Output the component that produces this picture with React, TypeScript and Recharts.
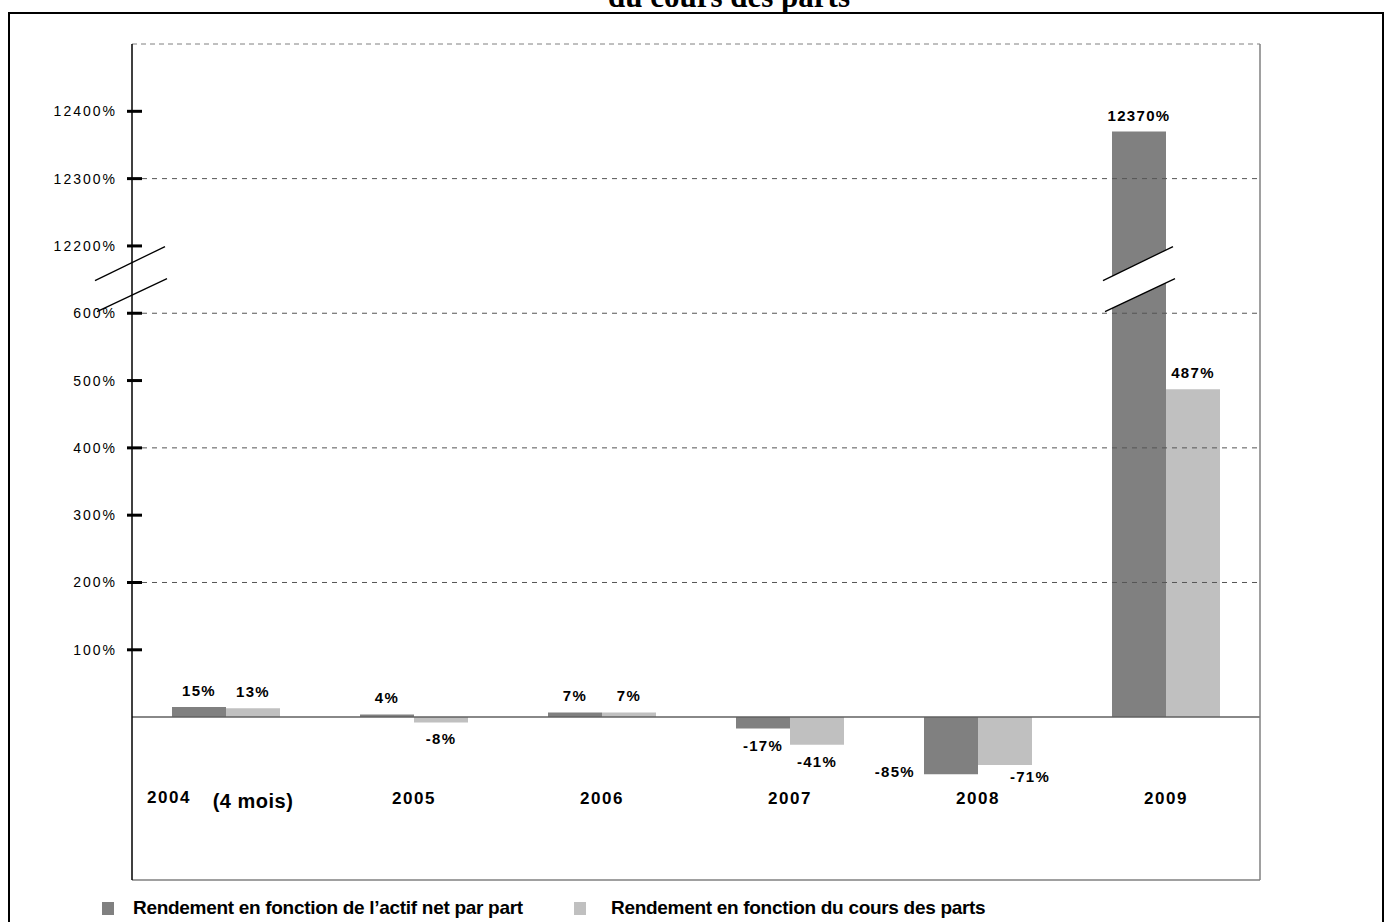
import { Bar, BarChart, LabelList, ReferenceDot, ReferenceLine, XAxis, YAxis } from "recharts";

const categories = ["2004", "2005", "2006", "2007", "2008", "2009"];
const categoryNotes = ["(4 mois)", "", "", "", "", ""];
const actifNet = [15, 4, 7, -17, -85, 12370];
const coursParts = [13, -8, 7, -41, -71, 487];
const yTicks = [100, 200, 300, 400, 500, 600, 12200, 12300, 12400];
const gridValues = [200, 400, 600, 12300];
const yMin = -242;
const yMax = 12500;

const seriesNames = [
  "Rendement en fonction de l\u2019actif net par part",
  "Rendement en fonction du cours des parts",
];
const DARK = "#808080";
const LIGHT = "#c0c0c0";

// broken axis: everything above the break is shifted down by BREAK_SHIFT
const BREAK_AT = 650;
const BREAK_SHIFT = 11500;
const toAxis = (v: number) => (v > BREAK_AT ? v - BREAK_SHIFT : v);
const fromAxis = (v: number) => (v > BREAK_AT ? v + BREAK_SHIFT : v);

const BAR_SIZE = 54;
const FONT = "'Liberation Sans', Arial, sans-serif";

const data = categories.map((c, i) => ({
  year: c,
  actif: toAxis(actifNet[i]),
  cours: toAxis(coursParts[i]),
  actifReal: actifNet[i],
  coursReal: coursParts[i],
}));

function YTick({ x, y, payload }: any) {
  return (
    <g>
      <line x1={x - 5} x2={x + 10} y1={y} y2={y} stroke="#000" strokeWidth={3} />
      <text x={x - 15} y={y + 5} textAnchor="end" fontFamily={FONT} fontSize={14} letterSpacing={2} fill="#000">
        {fromAxis(payload.value)}%
      </text>
    </g>
  );
}

// year labels sit inside the plot, above its bottom edge
function CategoryTick({ x, y, payload, index }: any) {
  const note = categoryNotes[index];
  const style = { fontFamily: FONT, fontWeight: 700, fill: "#000" };
  const base = y - 77;
  if (note) {
    return (
      <g>
        <text x={x - 57} y={base} textAnchor="middle" fontSize={17} letterSpacing={1.5} {...style}>
          {payload.value}
        </text>
        <text x={x + 27} y={base + 5} textAnchor="middle" fontSize={20} letterSpacing={0.5} {...style}>
          {note}
        </text>
      </g>
    );
  }
  return (
    <text x={x} y={base + 1} textAnchor="middle" fontSize={17} letterSpacing={1.5} {...style}>
      {payload.value}
    </text>
  );
}

const makeLabel = (dark: boolean) => (props: any) => {
  const { x, y, width, height, value } = props;
  const top = Math.min(y, y + height);
  const bottom = Math.max(y, y + height);
  let tx = x + width / 2;
  let ty = top - 11;
  let anchor = "middle";
  if (value < 0) {
    ty = bottom + 22;
    if (value < -50) {
      if (dark) {
        tx = x - 9;
        ty = bottom + 3;
        anchor = "end";
      } else {
        tx = x + width - 2;
        ty = bottom + 17;
      }
    }
  }
  return (
    <text x={tx} y={ty} textAnchor={anchor} fontFamily={FONT} fontWeight={700} fontSize={15} letterSpacing={1.3} fill="#000">
      {value}%
    </text>
  );
};

function BreakMark({ cx, cy }: { cx: number; cy: number }) {
  return (
    <g>
      <polygon
        points={`${cx - 36},${cy + 1} ${cx + 34},${cy - 33} ${cx + 36},${cy - 1} ${cx - 34},${cy + 32}`}
        fill="#fff"
        stroke="none"
      />
      <line x1={cx - 36} y1={cy + 1} x2={cx + 34} y2={cy - 33} stroke="#000" strokeWidth={1.3} />
      <line x1={cx - 34} y1={cy + 32} x2={cx + 36} y2={cy - 1} stroke="#000" strokeWidth={1.3} />
    </g>
  );
}

export default function App() {
  return (
    <div style={{ position: "absolute", left: 0, top: 0, width: 1385, height: 922, overflow: "hidden", background: "#fff" }}>
      <div
        style={{
          position: "absolute",
          left: 8,
          top: 12,
          width: 1376,
          height: 940,
          border: "2px solid #000",
          boxSizing: "border-box",
        }}
      />
      <div
        style={{
          position: "absolute",
          left: 0,
          width: 1458,
          top: -19,
          textAlign: "center",
          fontFamily: "'Liberation Serif', 'Times New Roman', serif",
          fontWeight: 700,
          fontSize: 31,
          lineHeight: "31px",
        }}
      >
        du cours des parts
      </div>
      <div style={{ position: "absolute", left: 0, top: 0 }}>
        <BarChart
          width={1385}
          height={922}
          data={data}
          barSize={BAR_SIZE}
          barGap={0}
          margin={{ top: 44, right: 124, bottom: 41, left: 0 }}
        >
          <XAxis
            dataKey="year"
            height={1}
            axisLine={{ stroke: DARK, strokeWidth: 1.5 }}
            tickLine={false}
            tickSize={0}
            tickMargin={0}
            interval={0}
            tick={<CategoryTick />}
          />
          <YAxis
            yAxisId="l"
            type="number"
            width={132}
            domain={[toAxis(yMin), toAxis(yMax)]}
            ticks={yTicks.map(toAxis)}
            interval={0}
            axisLine={{ stroke: "#000", strokeWidth: 1.5 }}
            tickLine={false}
            tickSize={0}
            tickMargin={0}
            tick={<YTick />}
          />
          <YAxis
            yAxisId="r"
            orientation="right"
            type="number"
            width={1}
            domain={[toAxis(yMin), toAxis(yMax)]}
            tick={false}
            tickLine={false}
            axisLine={{ stroke: DARK, strokeWidth: 1.5 }}
          />
          <ReferenceLine yAxisId="l" y={toAxis(yMax)} stroke={DARK} strokeDasharray="5 4" />
          {gridValues.map((g) => (
            <ReferenceLine key={g} yAxisId="l" y={toAxis(g)} stroke="#555" strokeDasharray="5 5" />
          ))}
          <Bar yAxisId="l" dataKey="actif" name={seriesNames[0]} fill={DARK} isAnimationActive={false}>
            <LabelList dataKey="actifReal" content={makeLabel(true)} />
          </Bar>
          <Bar yAxisId="l" dataKey="cours" name={seriesNames[1]} fill={LIGHT} isAnimationActive={false}>
            <LabelList dataKey="coursReal" content={makeLabel(false)} />
          </Bar>
          <ReferenceLine yAxisId="l" y={0} stroke="#606060" strokeWidth={1.5} />
          <ReferenceLine
            yAxisId="l"
            y={BREAK_AT}
            stroke="none"
            shape={(p: any) => <BreakMark cx={p.x1 - 1} cy={p.y1} />}
          />
          <ReferenceDot
            yAxisId="l"
            x={categories[5]}
            y={BREAK_AT}
            shape={(p: any) => <BreakMark cx={p.cx - BAR_SIZE / 2} cy={p.cy} />}
          />
        </BarChart>
      </div>
      {seriesNames.map((name, i) => (
        <div
          key={name}
          style={{
            position: "absolute",
            left: i === 0 ? 102 : 574,
            top: 897,
            display: "flex",
            alignItems: "center",
            fontFamily: FONT,
            fontWeight: 700,
            fontSize: 19,
            letterSpacing: -0.3,
            lineHeight: "22px",
            whiteSpace: "nowrap",
          }}
        >
          <span style={{ width: 12, height: 13, background: i === 0 ? DARK : LIGHT, marginRight: i === 0 ? 19 : 25 }} />
          {name}
        </div>
      ))}
    </div>
  );
}
